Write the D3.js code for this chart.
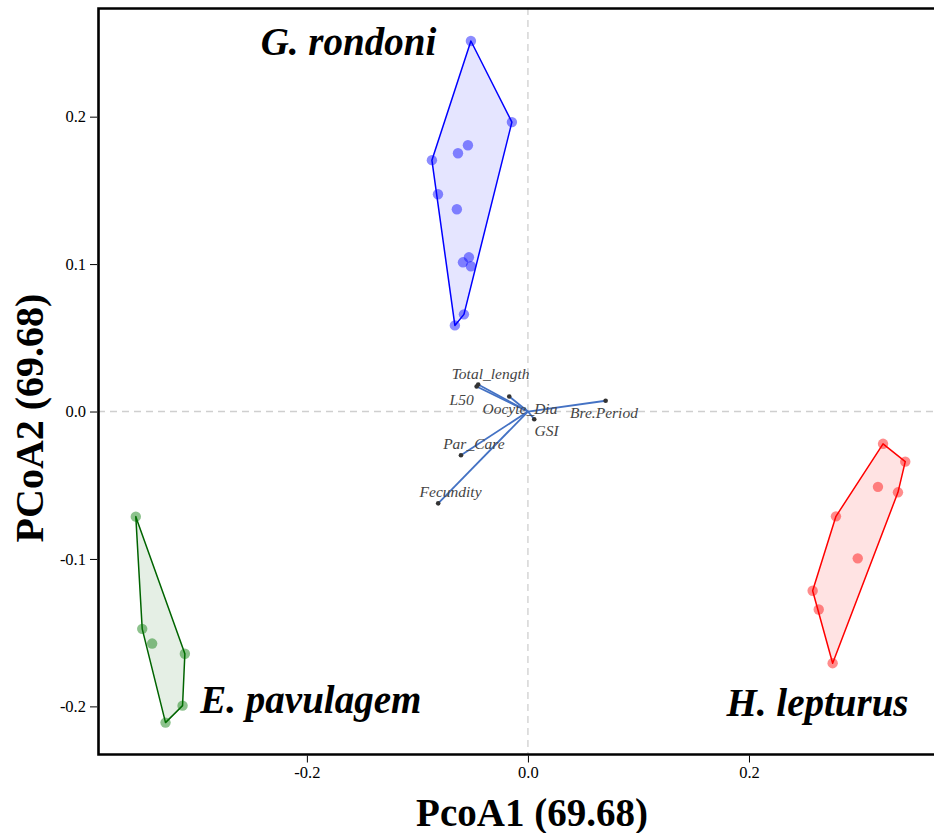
<!DOCTYPE html>
<html>
<head>
<meta charset="utf-8">
<script src="https://cdn.jsdelivr.net/npm/d3@7"></script>
<style>
  html, body { margin: 0; padding: 0; background: #fff; }
  svg { display: block; }
  text { font-family: "Liberation Serif", "Times New Roman", serif; }
</style>
</head>
<body>
<svg id="chart" width="934" height="833"></svg>
<script>
// PCoA scores per species (PcoA1, PcoA2)
const rondoniX = [-0.0516, -0.0145, -0.0543, -0.0633, -0.0869, -0.0814, -0.0643, -0.0534, -0.0588, -0.0516, -0.0579, -0.0661];
const rondoniY = [0.2513, 0.1963, 0.1806, 0.1752, 0.1705, 0.1474, 0.1372, 0.1046, 0.1012, 0.0985, 0.0659, 0.0584];

const pavulagemX = [-0.3548, -0.3490, -0.3400, -0.3104, -0.3125, -0.3279];
const pavulagemY = [-0.0713, -0.1474, -0.1574, -0.1643, -0.1995, -0.2110];

const lepturusX = [0.3213, 0.3414, 0.3167, 0.3348, 0.2787, 0.2984, 0.2576, 0.2631, 0.2757];
const lepturusY = [-0.0219, -0.0340, -0.0511, -0.0548, -0.0711, -0.0996, -0.1216, -0.1343, -0.1707];

// Trait vectors (loadings) and where their names sit, in axis units
const traitNames = ["Total_length", "L50", "Oocyte_Dia", "GSI", "Bre.Period", "Par_Care", "Fecundity"];
const traitX = [-0.0450, -0.0464, -0.0169, 0.0057, 0.0703, -0.0606, -0.0812];
const traitY = [0.0183, 0.0170, 0.0102, -0.0052, 0.0073, -0.0297, -0.0623];
const traitLabelX = [-0.0338, -0.0600, -0.0072, 0.0169, 0.0688, -0.0489, -0.0700];
const traitLabelY = [0.0260, 0.0079, 0.0022, -0.0129, -0.0009, -0.0215, -0.0545];

// Species names and their anchor positions in axis units
const speciesNames = ["G. rondoni", "E. pavulagem", "H. lepturus"];
const speciesLabelX = [-0.1624, -0.1964, 0.2620];
const speciesLabelY = [0.2418, -0.2044, -0.2065];

const xTicks = [-0.2, 0.0, 0.2];
const yTicks = [-0.2, -0.1, 0.0, 0.1, 0.2];
const xTitle = "PcoA1 (69.68)";
const yTitle = "PCoA2 (69.68)";

const groups = [
  { name: speciesNames[0], xs: rondoniX, ys: rondoniY, stroke: "#0000ff", fill: "rgba(0,0,255,0.1)", dot: "rgba(0,0,255,0.45)" },
  { name: speciesNames[1], xs: pavulagemX, ys: pavulagemY, stroke: "#006400", fill: "rgba(0,100,0,0.1)", dot: "rgba(0,120,0,0.45)" },
  { name: speciesNames[2], xs: lepturusX, ys: lepturusY, stroke: "#ff0000", fill: "rgba(255,0,0,0.11)", dot: "rgba(255,0,0,0.45)" }
];

const svg = d3.select("#chart");
const padL = 98, padR = 933, padT = 8, padB = 754;

const x = d3.scaleLinear().domain([-0.389, 0.3665]).range([padL, padR]);
const y = d3.scaleLinear().domain([-0.2323, 0.2737]).range([padB, padT]);

// tick labels with a plain hyphen for negatives
const fmt1 = d => d3.format(".1f")(d).replace("\u2212", "-");

// zero reference lines
svg.append("line")
  .attr("x1", x(0)).attr("x2", x(0)).attr("y1", padT).attr("y2", padB)
  .attr("stroke", "#cfcfcf").attr("stroke-width", 1.3).attr("stroke-dasharray", "7,5");
svg.append("line")
  .attr("x1", padL).attr("x2", 940).attr("y1", y(0)).attr("y2", y(0))
  .attr("stroke", "#cfcfcf").attr("stroke-width", 1.3).attr("stroke-dasharray", "7,5");

// convex hulls and points per species
groups.forEach(g => {
  const pts = g.xs.map((v, i) => [x(v), y(g.ys[i])]);
  const hull = d3.polygonHull(pts);
  svg.append("path")
    .attr("d", "M" + hull.map(p => p.join(",")).join("L") + "Z")
    .attr("fill", g.fill)
    .attr("stroke", g.stroke)
    .attr("stroke-width", 1.5)
    .attr("stroke-linejoin", "round");
  svg.append("g").selectAll("circle").data(pts).join("circle")
    .attr("cx", d => d[0]).attr("cy", d => d[1]).attr("r", 5.2)
    .attr("fill", g.dot);
});

// trait vectors
const vec = svg.append("g");
traitNames.forEach((n, i) => {
  vec.append("line")
    .attr("x1", x(0)).attr("y1", y(0))
    .attr("x2", x(traitX[i])).attr("y2", y(traitY[i]))
    .attr("stroke", "#4472c4").attr("stroke-width", 1.8);
});
traitNames.forEach((n, i) => {
  vec.append("circle")
    .attr("cx", x(traitX[i])).attr("cy", y(traitY[i])).attr("r", 2.3)
    .attr("fill", "#333");
  vec.append("text")
    .attr("x", x(traitLabelX[i])).attr("y", y(traitLabelY[i]))
    .attr("text-anchor", "middle").attr("dominant-baseline", "central")
    .attr("font-style", "italic").attr("font-size", 15.5).attr("fill", "#444")
    .text(n);
});

// species names
speciesNames.forEach((n, i) => {
  svg.append("text")
    .attr("x", x(speciesLabelX[i])).attr("y", y(speciesLabelY[i]))
    .attr("text-anchor", "middle")
    .attr("font-style", "italic").attr("font-weight", "bold").attr("font-size", 39)
    .attr("fill", "#000")
    .text(n);
});

// panel border (top, left, bottom)
svg.append("path")
  .attr("d", `M940,${padT + 0.5}H${padL + 0.5}V${padB + 0.5}H940`)
  .attr("fill", "none").attr("stroke", "#000").attr("stroke-width", 2.6);

// axes
const xAxis = svg.append("g").attr("transform", `translate(0,${padB + 1.5})`)
  .call(d3.axisBottom(x).tickValues(xTicks).tickSize(7).tickSizeOuter(0).tickPadding(4).tickFormat(fmt1));
xAxis.select(".domain").remove();
xAxis.selectAll("text").attr("font-size", 16.5).attr("font-family", "Liberation Serif, serif").attr("fill", "#000");

const yAxis = svg.append("g").attr("transform", `translate(${padL - 1},0)`)
  .call(d3.axisLeft(y).tickValues(yTicks).tickSize(7).tickSizeOuter(0).tickPadding(4).tickFormat(fmt1));
yAxis.select(".domain").remove();
yAxis.selectAll("text").attr("font-size", 16.5).attr("font-family", "Liberation Serif, serif").attr("fill", "#000");

// axis titles
svg.append("text")
  .attr("x", 532).attr("y", 826)
  .attr("text-anchor", "middle").attr("font-weight", "bold").attr("font-size", 39)
  .text(xTitle);
svg.append("text")
  .attr("transform", "translate(43,418) rotate(-90)")
  .attr("text-anchor", "middle").attr("font-weight", "bold").attr("font-size", 40)
  .text(yTitle);
</script>
</body>
</html>
